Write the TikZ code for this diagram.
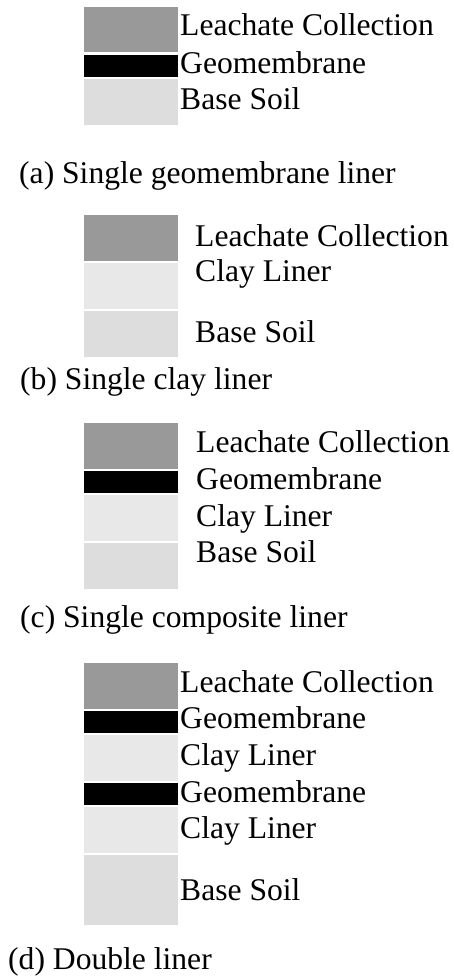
\documentclass[tikz,border=0pt]{standalone}
\usepackage{fontspec}
\setmainfont{Liberation Serif}
\definecolor{leachgray}{gray}{0.6}
\definecolor{claygray}{gray}{0.91}
\definecolor{soilgray}{gray}{0.865}
\begin{document}
\begin{tikzpicture}[x=1pt, y=-1pt,
    layer/.style={rectangle, inner sep=0pt, outer sep=0pt,
      minimum width=94pt, anchor=north west},
    leach/.style={layer, fill=leachgray, minimum height=45.5pt},
    geo/.style={layer, fill=black, minimum height=21.7pt},
    clay/.style={layer, fill=claygray, minimum height=45.5pt},
    soil/.style={layer, fill=soilgray, minimum height=46pt},
    lbl/.style={anchor=base west, inner sep=0pt,
      font=\fontsize{31.6}{36}\selectfont},
  ]
  \useasboundingbox (0,0) rectangle (454,976);

  % (a)
  \node[leach] (aleach) at (84,7) {};
  \node[geo] (ageo) at (84,55) {};
  \node[soil] (asoil) at (84,79) {};
  \node[lbl] (aleachtxt) at (180,36) {Leachate Collection};
  \node[lbl] (ageotxt) at (180,74) {Geomembrane};
  \node[lbl] (asoiltxt) at (180,110) {Base Soil};
  \node[lbl] (acap) at (19,184) {(a) Single geomembrane liner};

  % (b)
  \node[leach] (bleach) at (84,215) {};
  \node[clay] (bclay) at (84,263) {};
  \node[soil] (bsoil) at (84,311) {};
  \node[lbl] (bleachtxt) at (195,247) {Leachate Collection};
  \node[lbl] (bclaytxt) at (195,281) {Clay Liner};
  \node[lbl] (bsoiltxt) at (195,342) {Base Soil};
  \node[lbl] (bcap) at (20,389) {(b) Single clay liner};

  % (c)
  \node[leach] (cleach) at (84,423) {};
  \node[geo] (cgeo) at (84,471) {};
  \node[clay] (cclay) at (84,495) {};
  \node[soil] (csoil) at (84,543) {};
  \node[lbl] (cleachtxt) at (196,452) {Leachate Collection};
  \node[lbl] (cgeotxt) at (196,489) {Geomembrane};
  \node[lbl] (cclaytxt) at (196,526) {Clay Liner};
  \node[lbl] (csoiltxt) at (196,562) {Base Soil};
  \node[lbl] (ccap) at (20,627) {(c) Single composite liner};

  % (d)
  \node[leach] (dleach) at (84,663) {};
  \node[geo] (dgeoa) at (84,711) {};
  \node[clay] (dclaya) at (84,735) {};
  \node[geo] (dgeob) at (84,783) {};
  \node[clay] (dclayb) at (84,807) {};
  \node[soil, minimum height=70pt] (dsoil) at (84,855) {};
  \node[lbl] (dleachtxt) at (180,692) {Leachate Collection};
  \node[lbl] (dgeoatxt) at (180,728) {Geomembrane};
  \node[lbl] (dclayatxt) at (180,765) {Clay Liner};
  \node[lbl] (dgeobtxt) at (180,802) {Geomembrane};
  \node[lbl] (dclaybtxt) at (180,838) {Clay Liner};
  \node[lbl] (dsoiltxt) at (180,900) {Base Soil};
  \node[lbl] (dcap) at (8,969) {(d) Double liner};
\end{tikzpicture}
\end{document}
